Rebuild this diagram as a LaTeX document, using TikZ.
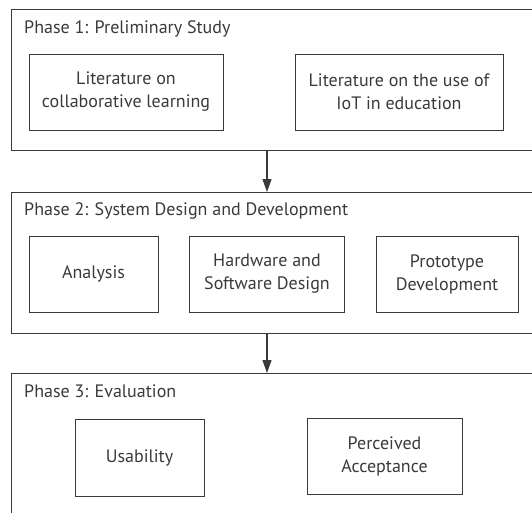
\documentclass[tikz,border=0pt]{standalone}
\usepackage{fontspec}
\setmainfont{PT Sans}
\usetikzlibrary{arrows.meta}
\definecolor{ink}{HTML}{3A3A3A}
\tikzset{
	phase/.style = {draw = ink, line width = 1pt, anchor = north west, inner sep = 0pt, minimum width = 560pt},
	phasetitle/.style = {anchor = base west, inner sep = 0pt, text = ink, font = \fontsize{18}{22}\selectfont},
	stepbox/.style = {draw = ink, line width = 1pt, align = center, text = ink, font = \fontsize{18}{23}\selectfont},
	flow/.style = {draw = ink, line width = 1.2pt, -{Triangle[width = 9pt, length = 13pt]}}
}
\begin{document}
\begin{tikzpicture} [x = 1pt, y = -1pt]
	\clip (0,0) rectangle (532,512);
	% the three phases
	\node [phase, minimum height = 141pt] (p1) at (11,9) {};
	\node [phase, minimum height = 141pt] (p2) at (11,192) {};
	\node [phase, minimum height = 180pt] (p3) at (11,373) {};
	\node [phasetitle] (t1) at (24,33) {Phase 1: Preliminary Study};
	\node [phasetitle] (t2) at (24,215) {Phase 2: System Design and Development};
	\node [phasetitle] (t3) at (24,397) {Phase 3: Evaluation};
	% phase 1
	\node [stepbox, minimum width = 194pt, minimum height = 76pt] (lit) at (126,92) {Literature on\\collaborative learning};
	\node [stepbox, minimum width = 208pt, minimum height = 76pt] (iot) at (399,92) {Literature on the use of\\IoT in education};
	% phase 2
	\node [stepbox, minimum width = 129pt, minimum height = 76pt] (ana) at (93.5,274) {Analysis};
	\node [stepbox, minimum width = 155pt, minimum height = 76pt] (hw) at (267,274) {Hardware and\\Software Design};
	\node [stepbox, minimum width = 142pt, minimum height = 76pt] (proto) at (447,274) {Prototype\\Development};
	% phase 3
	\node [stepbox, minimum width = 129pt, minimum height = 77pt] (usa) at (139.5,457.5) {Usability};
	\node [stepbox, minimum width = 155pt, minimum height = 76pt] (acc) at (384.5,456.5) {Perceived\\Acceptance};
	% arrows between phases
	\draw [flow] (p1.south -| hw.center) -- (p2.north -| hw.center);
	\draw [flow] (p2.south -| hw.center) -- (p3.north -| hw.center);
\end{tikzpicture}
\end{document}
